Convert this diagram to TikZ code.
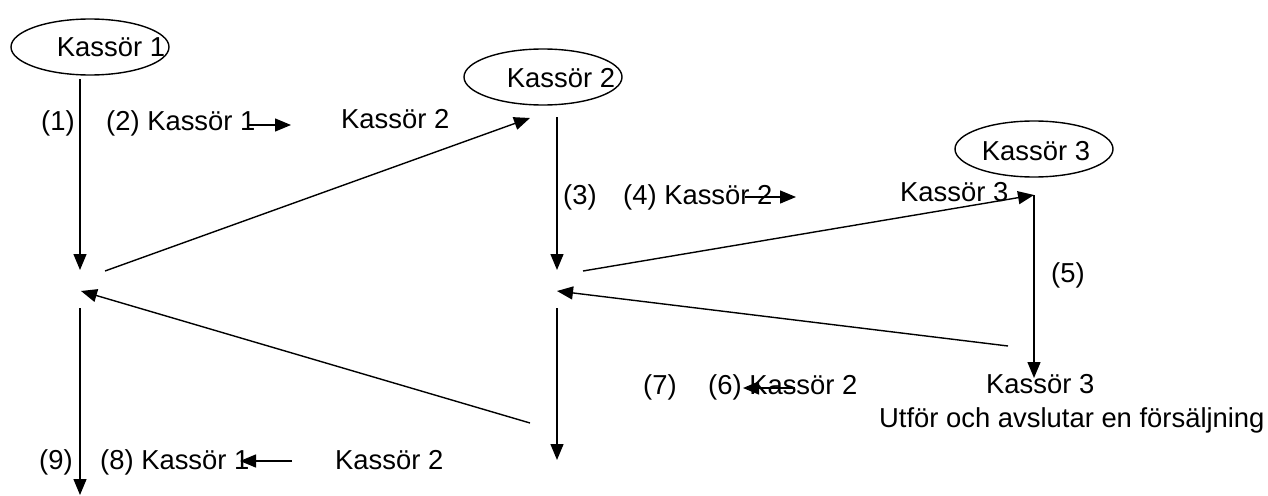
\documentclass[tikz,border=0pt]{standalone}
\usepackage{fontspec}
\setmainfont{Liberation Sans}
\usetikzlibrary{arrows.meta,shapes.geometric}
\begin{document}
\begin{tikzpicture}[x=1pt,y=-1pt,
  font=\fontsize{27.4}{32}\selectfont,
  conn/.style={line width=1.4pt,-{Triangle[length=16pt,width=13pt]}},
  lbl/.style={anchor=base west,inner sep=0pt},
  ctext/.style={inner sep=0pt},
  actor/.style={draw,ellipse,line width=1.4pt,minimum width=158pt,minimum height=56pt,inner sep=0pt}]
\useasboundingbox (0,0) rectangle (1268,495);
% actors
\node[actor] (e1) at (90,47) {};
\node[ctext] (t1) at (111,47) {Kassör 1};
\node[actor] (e2) at (543,77) {};
\node[ctext] (t2) at (561,78) {Kassör 2};
\node[actor] (e3) at (1034,149) {};
\node[ctext] (t3) at (1036,151) {Kassör 3};
% lifeline points
\coordinate (a1) at (80,79);   \coordinate (a2) at (80,270);
\coordinate (a3) at (80,308);  \coordinate (a4) at (80,495);
\coordinate (b1) at (557,117); \coordinate (b2) at (557,270);
\coordinate (b3) at (557,308); \coordinate (b4) at (557,460);
\coordinate (c1) at (1034,195);\coordinate (c2) at (1034,378);
\coordinate (d1s) at (105,271); \coordinate (d1e) at (530,118);
\coordinate (d2s) at (583,271); \coordinate (d2e) at (1034,195);
\coordinate (d3s) at (1008,346);\coordinate (d3e) at (557,291);
\coordinate (d4s) at (530,423); \coordinate (d4e) at (81,291);
% connectors
\draw[conn] (a1) -- (a2);
\draw[conn] (a3) -- (a4);
\draw[conn] (b1) -- (b2);
\draw[conn] (b3) -- (b4);
\draw[conn] (c1) -- (c2);
\draw[conn] (d1s) -- (d1e);
\draw[conn] (d2s) -- (d2e);
\draw[conn] (d3s) -- (d3e);
\draw[conn] (d4s) -- (d4e);
% labels row 1
\node[lbl] (l1) at (41,130) {(1)};
\node[lbl] (l2) at (106,130) {(2) Kassör 1};
\coordinate (s1a) at (247,125); \coordinate (s1b) at (291,125);
\draw[conn] (s1a) -- (s1b);
\node[lbl] (l2b) at (341,128) {Kassör 2};
% row 2
\node[lbl] (l3) at (563,204) {(3)};
\node[lbl] (l4) at (623,204) {(4) Kassör 2};
\coordinate (s2a) at (745,197); \coordinate (s2b) at (796,197);
\draw[conn] (s2a) -- (s2b);
\node[lbl] (l4b) at (900,201) {Kassör 3};
% (5)
\node[lbl] (l5) at (1051,282) {(5)};
% row 3
\node[lbl] (l7) at (643,394) {(7)};
\node[lbl] (l6) at (708,394) {(6) Kassör 2};
\coordinate (s3a) at (795,388); \coordinate (s3b) at (743,388);
\draw[conn] (s3a) -- (s3b);
\node[lbl] (l6b) at (986,393) {Kassör 3};
\node[lbl] (l6c) at (879,427) {Utför och avslutar en försäljning};
% row 4
\node[lbl] (l9) at (39,469) {(9)};
\node[lbl] (l8) at (100,469) {(8) Kassör 1};
\coordinate (s4a) at (292,461); \coordinate (s4b) at (240,461);
\draw[conn] (s4a) -- (s4b);
\node[lbl] (l8b) at (335,469) {Kassör 2};
\end{tikzpicture}
\end{document}
